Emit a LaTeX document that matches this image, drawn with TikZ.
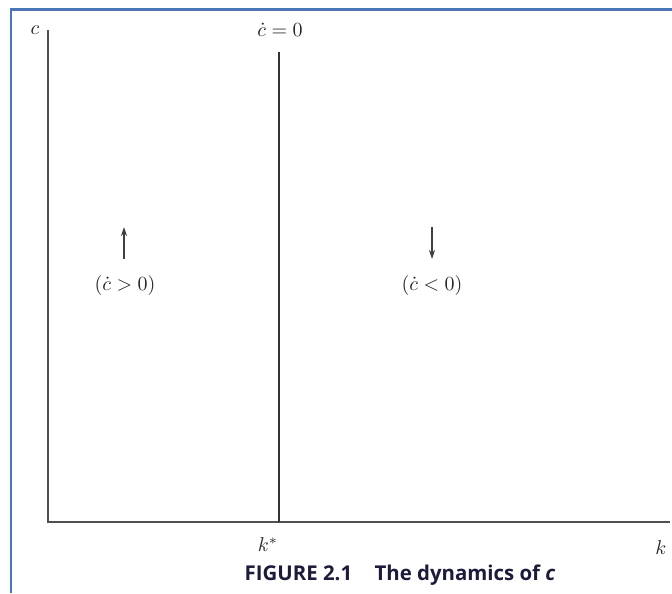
\documentclass[tikz,border=0pt]{standalone}
\usepackage{amsmath}
\usepackage{fontspec}
\newfontfamily\captionfont{Open Sans}
\usepackage{xcolor}
\definecolor{frameblue}{HTML}{4a76b8}
\definecolor{axisgray}{HTML}{505050}
\definecolor{captionnavy}{HTML}{1c1c3a}
\usepackage{tikz}
\usetikzlibrary{arrows.meta, positioning}

\begin{document}
\begin{tikzpicture}[x=0.5pt, y=-0.5pt,
  axisline/.style={draw=axisgray, line width=1.1pt},
  locus/.style={draw=black!80, line width=0.8pt},
  motion/.style={-{Stealth[length=4.5pt, width=3pt]}, line width=0.85pt, color=black!75},
  lbl/.style={inner sep=0pt, font=\fontsize{10}{12}\selectfont, text=black!85}
]
\useasboundingbox (0,0) rectangle (672,593);
\fill[white] (0,0) rectangle (672,593);
% frame of the screenshot
\draw[frameblue, line width=1.2pt] (11,593) -- (11,9.5) -- (672,9.5);

% axes
\coordinate (origin) at (48,522);
\coordinate (ytop) at (48,30);
\coordinate (xend) at (670,522);
\draw[axisline] (ytop) -- (origin) -- (xend);

% c-dot = 0 locus
\coordinate (kstar) at (279,522);
\coordinate (kstartop) at (279,52);
\draw[locus] (kstartop) -- (kstar);

% labels
\node[lbl] (clabel) at (35,30) {$c$};
\node[lbl] (locuslabel) at (280,30) {$\dot c = 0$};
\node[lbl] (kstarlabel) at (268,545) {$k^{*}$};
\node[lbl] (klabel) at (661,548) {$k$};

% directions of motion
\coordinate (upfrom) at (124,259);
\coordinate (upto) at (124,227);
\draw[motion] (upfrom) -- (upto);
\node[lbl] (rising) at (125,285) {$(\dot c > 0)$};

\coordinate (downfrom) at (432,227);
\coordinate (downto) at (432,259);
\draw[motion] (downfrom) -- (downto);
\node[lbl] (falling) at (432,285) {$(\dot c < 0)$};

% caption
\node[inner sep=0pt, text=captionnavy, font=\captionfont\bfseries\fontsize{10.2}{12}\selectfont] (caption) at (400,575)
  {FIGURE 2.1\hspace{1.1em}The dynamics of \itshape c};
\end{tikzpicture}
\end{document}
